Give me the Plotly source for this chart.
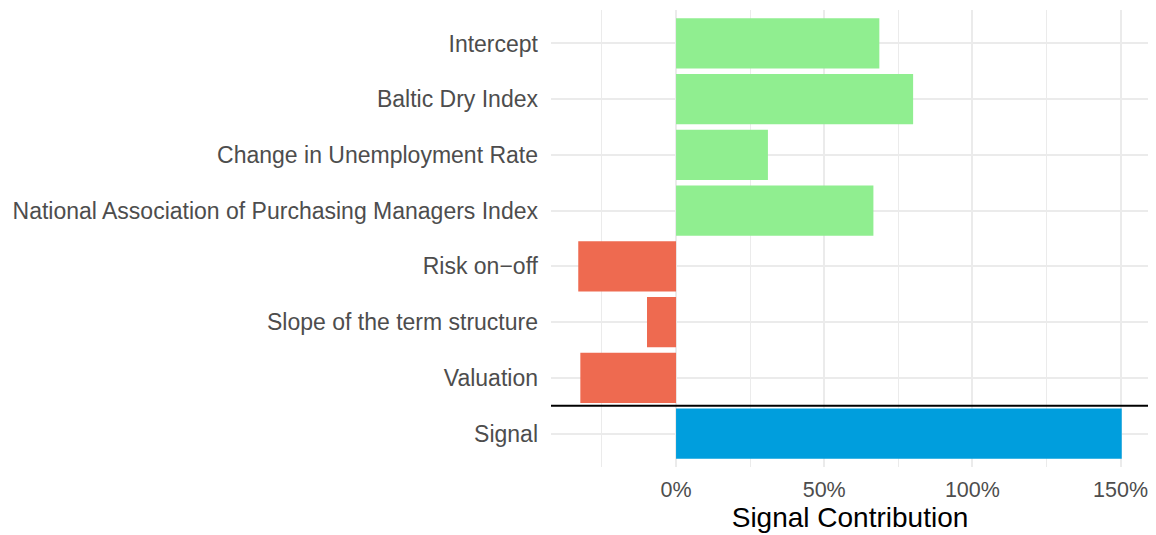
import plotly.graph_objects as go

categories = ["Intercept", "Baltic Dry Index", "Change in Unemployment Rate",
              "National Association of Purchasing Managers Index",
              "Risk on\u2212off", "Slope of the term structure", "Valuation", "Signal"]
values = [68.6, 80.0, 31.0, 66.6, -33.0, -9.8, -32.3, 150.4]
colors = ["#90EE90", "#90EE90", "#90EE90", "#90EE90",
          "#EE6A50", "#EE6A50", "#EE6A50", "#009EDD"]
x_ticks = [0, 50, 100, 150]
x_ticklabels = ["0%", "50%", "100%", "150%"]

order = categories[::-1]

fig = go.Figure()
fig.add_trace(go.Bar(
    x=values, y=categories, orientation="h",
    marker=dict(color=colors, line=dict(width=0)),
    width=0.9, showlegend=False,
))

fig.add_shape(type="line", xref="paper", yref="y", x0=0, x1=1, y0=0.5, y1=0.5,
              line=dict(color="black", width=2))

# page body has an 8px default margin; compensate
fig.update_layout(
    width=1148, height=527,
    margin=dict(l=543, r=7, t=2, b=68),
    plot_bgcolor="white", paper_bgcolor="white",
    font=dict(family="Liberation Sans, Arial, sans-serif", size=23, color="#4D4D4D"),
    bargap=0.1,
    xaxis=dict(
        range=[-42.2, 159.6],
        tickvals=x_ticks, ticktext=x_ticklabels,
        showgrid=True, gridcolor="#EBEBEB", gridwidth=2,
        zeroline=False, showline=False, ticks="",
        minor=dict(tickvals=[-25, 25, 75, 125], showgrid=True,
                   gridcolor="#EBEBEB", gridwidth=1.2, ticks=""),
        tickfont=dict(size=21.5, color="#4D4D4D"),
        title=dict(text="Signal Contribution",
                   font=dict(size=28, color="black"), standoff=6),
        ticklabelstandoff=7,
    ),
    yaxis=dict(
        categoryorder="array", categoryarray=order,
        range=[-0.6, 7.6],
        showgrid=True, gridcolor="#EBEBEB", gridwidth=2,
        zeroline=False, showline=False, ticks="",
        tickfont=dict(size=23, color="#4D4D4D"),
        ticklabelstandoff=12,
    ),
)

fig.write_html("out.html")
